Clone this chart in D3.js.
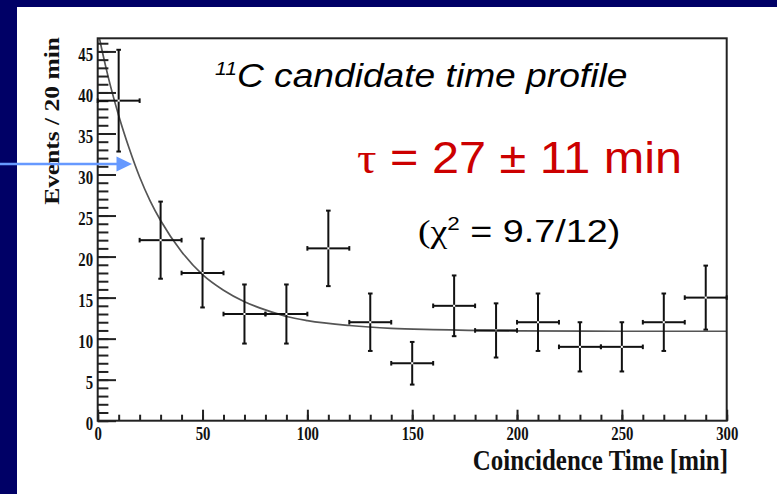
<!DOCTYPE html>
<html><head><meta charset="utf-8">
<script src="https://cdn.jsdelivr.net/npm/d3@7"></script>
<style>html,body{margin:0;padding:0;background:#fff;} svg{display:block;}</style>
</head><body><svg id="c" width="777" height="494"></svg>
<script>
// ---- data ----
const binCenters   = [10, 30, 50, 70, 90, 110, 130, 150, 170, 190, 210, 230, 250, 270, 290];
const counts       = [39, 22, 18, 13, 13, 21, 12, 7, 14, 11, 12, 9, 9, 12, 15];
const countErrors  = [6.2, 4.7, 4.2, 3.6, 3.6, 4.6, 3.5, 2.6, 3.7, 3.3, 3.5, 3.0, 3.0, 3.5, 3.9];
const binHalfWidth = 10;
const fitTimes  = [0, 2, 5, 10, 15, 20, 25, 30, 40, 50, 60, 70, 80, 90, 100, 120, 140, 160, 200, 250, 300];
const fitValues = [47.6, 45.2, 41.9, 37.2, 33.2, 29.7, 26.8, 24.4, 20.6, 17.8, 15.9, 14.5, 13.5, 12.7, 12.2, 11.6, 11.25, 11.1, 10.95, 10.9, 10.9];
const xTickLabels = [0, 50, 100, 150, 200, 250, 300];
const yTickLabels = [0, 5, 10, 15, 20, 25, 30, 35, 40, 45];
const xDomain = [0, 300];
const yDomain = [0, 46.6];
const xTitle = "Coincidence Time [min]";
const yTitle = "Events / 20 min";

const svg = d3.select("#c");
// background: navy strips + white slide
svg.append("rect").attr("x",0).attr("y",0).attr("width",777).attr("height",494).attr("fill","#000066");
svg.append("rect").attr("x",17).attr("y",7).attr("width",760).attr("height",487).attr("fill","#ffffff");

const x = d3.scaleLinear().domain(xDomain).range([97.7, 726.7]);
const y = d3.scaleLinear().domain(yDomain).range([420.7, 38.3]);

const serif = "'Liberation Serif','Times New Roman',serif";
const sans = "'Liberation Sans',Arial,sans-serif";

svg.append("defs").append("clipPath").attr("id","plotclip")
  .append("rect").attr("x", x(0)).attr("y", y(yDomain[1])).attr("width", x(300)-x(0)).attr("height", y(0)-y(yDomain[1]));

// fit curve
const line = d3.line().x((d,i)=>x(fitTimes[i])).y(d=>y(d)).curve(d3.curveMonotoneX);
svg.append("path").datum(fitValues).attr("d", line)
  .attr("fill","none").attr("stroke","#555").attr("stroke-width",1.7)
  .attr("clip-path","url(#plotclip)");

// axes
const axisCol = "#222";
function styleAxis(g){
  g.selectAll("line").attr("stroke",axisCol).attr("stroke-width",2);
  g.select(".domain").remove();
}
const gxMinor = svg.append("g").attr("transform",`translate(0,${y(0)})`)
  .call(d3.axisBottom(x).tickValues(d3.range(0,301,10)).tickSize(-6).tickFormat(""));
styleAxis(gxMinor);
const gx = svg.append("g").attr("transform",`translate(0,${y(0)})`)
  .call(d3.axisBottom(x).tickValues(xTickLabels).tickSizeInner(-11).tickSizeOuter(0).tickFormat(d3.format("d")));
styleAxis(gx);
gx.selectAll("text").attr("y",0).attr("dy",0)
  .attr("transform","translate(0,19.5) scale(0.82,1)")
  .attr("font-family",serif).attr("font-weight","bold").attr("font-size",18).attr("fill","#111");

const gyMinor = svg.append("g").attr("transform",`translate(${x(0)},0)`)
  .call(d3.axisLeft(y).tickValues(d3.range(0,47,1)).tickSize(-10.7).tickFormat(""));
styleAxis(gyMinor);
const gy = svg.append("g").attr("transform",`translate(${x(0)},0)`)
  .call(d3.axisLeft(y).tickValues(yTickLabels).tickSizeInner(-18.3).tickSizeOuter(0).tickFormat(d3.format("d")));
styleAxis(gy);
gy.selectAll("text").attr("x",0).attr("dy",0).attr("text-anchor","end")
  .attr("transform","translate(-4.7,9) scale(0.82,1)")
  .attr("font-family",serif).attr("font-weight","bold").attr("font-size",18).attr("fill","#111");

// frame
svg.append("rect").attr("x",x(0)).attr("y",y(yDomain[1])).attr("width",x(300)-x(0)).attr("height",y(0)-y(yDomain[1]))
  .attr("fill","none").attr("stroke",axisCol).attr("stroke-width",2);

// error bars
const eb = svg.append("g").attr("stroke","#111").attr("stroke-width",2).attr("fill","none");
const gap = 1, cap = 2.3;
binCenters.forEach((t,i)=>{
  const cx = x(t), cy = y(counts[i]);
  const x0 = x(t-binHalfWidth), x1 = x(t+binHalfWidth);
  const yt = y(counts[i]+countErrors[i]), yb = y(counts[i]-countErrors[i]);
  const g = eb.append("g");
  g.append("line").attr("x1",x0).attr("x2",cx-gap).attr("y1",cy).attr("y2",cy);
  g.append("line").attr("x1",cx+gap).attr("x2",x1).attr("y1",cy).attr("y2",cy);
  g.append("line").attr("x1",cx).attr("x2",cx).attr("y1",yt).attr("y2",cy-gap);
  g.append("line").attr("x1",cx).attr("x2",cx).attr("y1",cy+gap).attr("y2",yb);
  g.append("line").attr("x1",x0).attr("x2",x0).attr("y1",cy-cap).attr("y2",cy+cap);
  g.append("line").attr("x1",x1).attr("x2",x1).attr("y1",cy-cap).attr("y2",cy+cap);
  g.append("line").attr("x1",cx-cap).attr("x2",cx+cap).attr("y1",yt).attr("y2",yt);
  g.append("line").attr("x1",cx-cap).attr("x2",cx+cap).attr("y1",yb).attr("y2",yb);
});

// axis titles
svg.append("text").text(xTitle)
  .attr("transform","translate(728,470) scale(0.86,1)").attr("text-anchor","end")
  .attr("font-family",serif).attr("font-weight","bold").attr("font-size",29).attr("fill","#111");
svg.append("text").text(yTitle)
  .attr("transform","translate(59,121) scale(0.82,1) rotate(-90)").attr("text-anchor","middle")
  .attr("font-family",serif).attr("font-weight","bold").attr("font-size",25.5).attr("fill","#111");

// annotations
const t1 = svg.append("text").attr("transform","translate(215,87) scale(1.11,1)")
  .attr("font-family",sans).attr("font-style","italic").attr("fill","#000");
t1.append("tspan").attr("font-size",19).attr("dy",-12).text("11");
t1.append("tspan").attr("font-size",33.5).attr("dy",12).text("C candidate time profile");

const t2 = svg.append("text").attr("transform","translate(357,173) scale(1.105,1)")
  .attr("font-family",sans).attr("font-size",44).attr("fill","#cc0000");
t2.append("tspan").attr("font-family",serif).text("τ");
t2.append("tspan").text(" = 27 ± 11 min");

const t3 = svg.append("text").attr("transform","translate(418,242) scale(1.18,1)")
  .attr("font-family",sans).attr("font-size",32).attr("fill","#000");
t3.append("tspan").attr("font-family",serif).text("(χ");
t3.append("tspan").attr("font-size",19).attr("dy",-12).text("2");
t3.append("tspan").attr("dy",12).text(" = 9.7/12)");

// blue arrow
svg.append("line").attr("x1",0).attr("x2",118).attr("y1",164).attr("y2",164)
  .attr("stroke","#6699ff").attr("stroke-width",2.6);
svg.append("path").attr("d","M116.5,156.5 L132,164 L116.5,171.5 Z").attr("fill","#6699ff");
</script></body></html>
